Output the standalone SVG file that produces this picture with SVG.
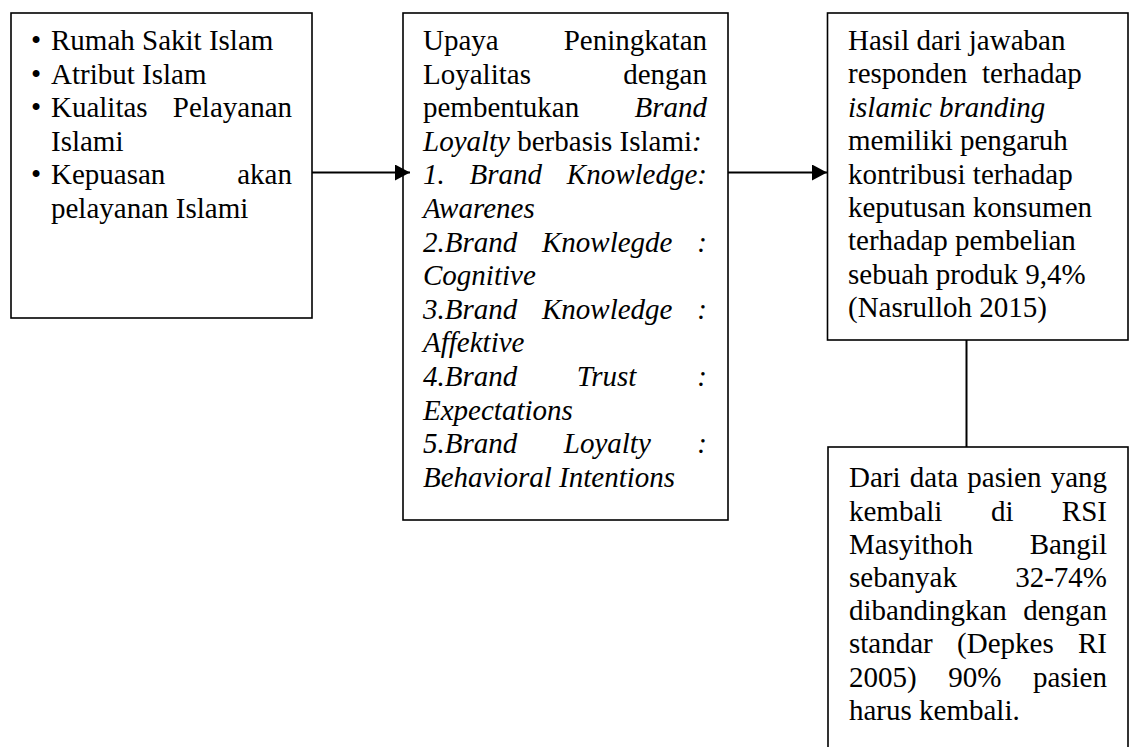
<svg xmlns="http://www.w3.org/2000/svg" width="1132" height="747" viewBox="0 0 1132 747">
<style>
.box{fill:#fff;stroke:#000;stroke-width:1.6}
.t{font-family:"Liberation Serif","Times New Roman",serif;font-size:29px;fill:#000}
.i{font-style:italic}
.e{text-anchor:end}
.c{stroke:#000;stroke-width:2;fill:none}
</style>
<defs>
<marker id="ah" markerUnits="userSpaceOnUse" markerWidth="16" markerHeight="16" refX="15" refY="8" orient="auto">
<path d="M0,0 L15,8 L0,16 Z" fill="#000"/>
</marker>
</defs>
<g id="box1">
<rect class="box" x="11" y="13" width="301" height="305"/>
<text class="t" x="31" y="50">•</text>
<text class="t" x="51" y="50">Rumah Sakit Islam</text>
<text class="t" x="31" y="83.6">•</text>
<text class="t" x="51" y="83.6">Atribut Islam</text>
<text class="t" x="31" y="117.2">•</text>
<text class="t" x="51" y="117.2">Kualitas</text>
<text class="t e" x="292" y="117.2">Pelayanan</text>
<text class="t" x="51" y="150.8">Islami</text>
<text class="t" x="31" y="184.4">•</text>
<text class="t" x="51" y="184.4">Kepuasan</text>
<text class="t e" x="292" y="184.4">akan</text>
<text class="t" x="51" y="218">pelayanan Islami</text>
</g>
<g id="box2">
<rect class="box" x="403" y="13" width="325" height="507"/>
<text class="t" x="423" y="50">Upaya</text>
<text class="t e" x="707" y="50">Peningkatan</text>
<text class="t" x="423" y="83.6">Loyalitas</text>
<text class="t e" x="707" y="83.6">dengan</text>
<text class="t" x="423" y="117.2">pembentukan</text>
<text class="t e i" x="707" y="117.2">Brand</text>
<text class="t" x="423" y="150.8"><tspan class="i">Loyalty</tspan> berbasis Islami<tspan class="i">:</tspan></text>
<text class="t i" x="423" y="184.4">1.</text>
<text class="t i" x="469.6" y="184.4">Brand</text>
<text class="t i e" x="707" y="184.4">Knowledge:</text>
<text class="t i" x="423" y="218">Awarenes</text>
<text class="t i" x="423" y="251.6">2.Brand</text>
<text class="t i" x="542" y="251.6">Knowlegde</text>
<text class="t i e" x="707" y="251.6">:</text>
<text class="t i" x="423" y="285.2">Cognitive</text>
<text class="t i" x="423" y="318.8">3.Brand</text>
<text class="t i" x="542" y="318.8">Knowledge</text>
<text class="t i e" x="707" y="318.8">:</text>
<text class="t i" x="423" y="352.4">Affektive</text>
<text class="t i" x="423" y="386">4.Brand</text>
<text class="t i" x="576.7" y="386">Trust</text>
<text class="t i e" x="707" y="386">:</text>
<text class="t i" x="423" y="419.6">Expectations</text>
<text class="t i" x="423" y="453.2">5.Brand</text>
<text class="t i" x="563.8" y="453.2">Loyalty</text>
<text class="t i e" x="707" y="453.2">:</text>
<text class="t i" x="423" y="486.8">Behavioral Intentions</text>
</g>
<g id="box3">
<rect class="box" x="827.5" y="13" width="300.5" height="327"/>
<text class="t" x="848" y="50">Hasil dari jawaban</text>
<text class="t" x="848" y="83.4">responden</text>
<text class="t" x="982" y="83.4">terhadap</text>
<text class="t i" x="848" y="116.8">islamic branding</text>
<text class="t" x="848" y="150.2">memiliki pengaruh</text>
<text class="t" x="848" y="183.6">kontribusi terhadap</text>
<text class="t" x="848" y="217">keputusan konsumen</text>
<text class="t" x="848" y="250.4">terhadap pembelian</text>
<text class="t" x="848" y="283.8">sebuah produk 9,4%</text>
<text class="t" x="848" y="317.2">(Nasrulloh 2015)</text>
</g>
<g id="box4">
<rect class="box" x="828" y="447" width="300" height="320"/>
<text class="t" x="849" y="487.3">Dari</text>
<text class="t" x="909.8" y="487.3">data</text>
<text class="t" x="967.3" y="487.3">pasien</text>
<text class="t e" x="1107" y="487.3">yang</text>
<text class="t" x="849" y="520.5">kembali</text>
<text class="t" x="990.9" y="520.5">di</text>
<text class="t e" x="1107" y="520.5">RSI</text>
<text class="t" x="849" y="553.7">Masyithoh</text>
<text class="t e" x="1107" y="553.7">Bangil</text>
<text class="t" x="849" y="586.9">sebanyak</text>
<text class="t e" x="1107" y="586.9">32-74%</text>
<text class="t" x="849" y="620.1">dibandingkan</text>
<text class="t e" x="1107" y="620.1">dengan</text>
<text class="t" x="849" y="653.3">standar</text>
<text class="t" x="957.1" y="653.3">(Depkes</text>
<text class="t e" x="1107" y="653.3">RI</text>
<text class="t" x="849" y="686.5">2005)</text>
<text class="t" x="948.2" y="686.5">90%</text>
<text class="t e" x="1107" y="686.5">pasien</text>
<text class="t" x="849" y="719.7">harus kembali.</text>
</g>
<g id="connectors">
<line class="c" x1="312" y1="172.5" x2="410" y2="172.5" marker-end="url(#ah)"/>
<line class="c" x1="728" y1="172.5" x2="827" y2="172.5" marker-end="url(#ah)"/>
<line class="c" x1="966.5" y1="340" x2="966.5" y2="447"/>
</g>
</svg>
